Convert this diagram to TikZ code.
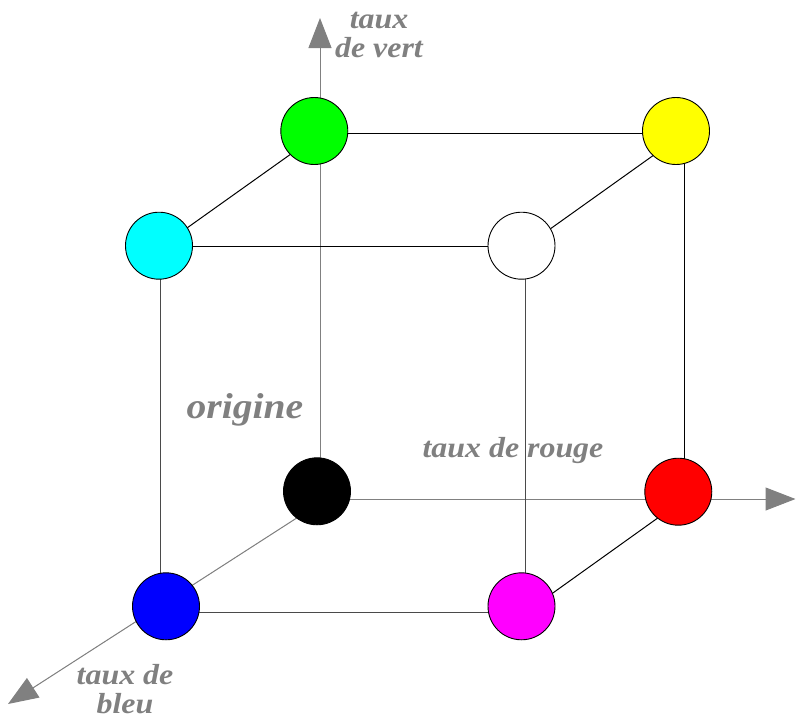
\documentclass[tikz,border=0pt]{standalone}
\usepackage{fontspec}
\newfontfamily\lblfont[FakeStretch=1.1]{Liberation Serif}
\usetikzlibrary{arrows.meta}
\definecolor{axisgray}{HTML}{808080}
\definecolor{labelgray}{HTML}{808080}
\definecolor{edgegray}{HTML}{4A4A4A}
\definecolor{pgreen}{HTML}{00FF00}
\definecolor{pyellow}{HTML}{FFFF00}
\definecolor{pcyan}{HTML}{00FFFF}
\definecolor{pred}{HTML}{FF0000}
\definecolor{pblue}{HTML}{0000FF}
\definecolor{pmagenta}{HTML}{FF00FF}
\begin{document}
\begin{tikzpicture}[x=1pt,y=-1pt,
  ball/.style={circle, draw=black, line width=0.9pt, minimum size=67pt, inner sep=0pt, fill=#1},
  edge/.style={draw=black, line width=1pt},
  backedge/.style={draw=edgegray, line width=1pt},
  axis/.style={draw=axisgray, line width=1pt, -{Triangle[length=30pt,width=23pt]}, fill=axisgray},
  lbl/.style={text=labelgray, font=\lblfont\bfseries\itshape\fontsize{29}{29}\selectfont, inner sep=0pt, align=center, anchor=base},
  biglbl/.style={text=labelgray, font=\lblfont\bfseries\itshape\fontsize{36}{36}\selectfont, inner sep=0pt, anchor=base}]
\useasboundingbox (0,0) rectangle (796,721);
% cube vertices
\coordinate (g) at (320,133.3);
\coordinate (y) at (684.3,133.3);
\coordinate (c) at (160.7,246.7);
\coordinate (w) at (525.3,246.7);
\coordinate (k) at (320,499);
\coordinate (r) at (684.3,499);
\coordinate (b) at (160.7,612.7);
\coordinate (m) at (525.3,612.7);
\coordinate (kd) at (320,503);
\coordinate (vtip) at (320,18);
\coordinate (htip) at (795.5,499);
\coordinate (dtip) at (8,704);
% axes
\draw[axis] (k) -- (vtip);
\draw[axis] (k) -- (htip);
\draw[axis] (kd) -- (dtip);
% edges
\draw[edge] (g) -- (y);
\draw[edge] (g) -- (c);
\draw[edge] (c) -- (w);
\draw[edge] (y) -- (w);
\draw[edge] (y) -- (r);
\draw[backedge] (c) -- (b);
\draw[backedge] (w) -- (m);
\draw[backedge] (b) -- (m);
\draw[edge] (m) -- (r);
% balls
\node[ball=pgreen] (G) at (314.3,131) {};
\node[ball=pyellow] (Y) at (676,131) {};
\node[ball=pcyan] (C) at (159,245.7) {};
\node[ball=white] (W) at (521.5,245.7) {};
\node[ball=black] (K) at (317,491.3) {};
\node[ball=pred] (R) at (678.3,491.7) {};
\node[ball=pblue] (B) at (166,606.3) {};
\node[ball=pmagenta] (M) at (521.5,606.3) {};
% labels
\node[lbl] (lv) at (379,57) {taux\\de vert};
\node[lbl] (lr) at (513,457) {taux de rouge};
\node[lbl] (lb) at (125,713) {taux de\\bleu};
\node[biglbl] (lo) at (245,418) {origine};
\end{tikzpicture}
\end{document}
